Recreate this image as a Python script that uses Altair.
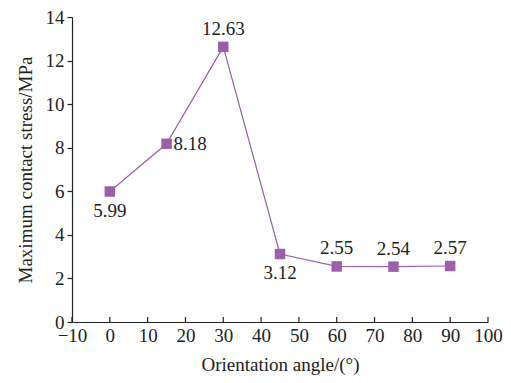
import altair as alt
import pandas as pd

angles = [0, 15, 30, 45, 60, 75, 90]
stress = [5.99, 8.18, 12.63, 3.12, 2.55, 2.54, 2.57]
labels = ["5.99", "8.18", "12.63", "3.12", "2.55", "2.54", "2.57"]
placement = ["below", "right", "above", "below", "above", "above", "above"]
x_ticks = list(range(-10, 101, 10))
y_ticks = list(range(0, 15, 2))

df = pd.DataFrame({"angle": angles, "stress": stress, "label": labels, "place": placement})
tick_df = pd.DataFrame({"angle": x_ticks})

color = "#9B5FAA"
font = "Liberation Serif"
ink = "#222222"
W, H = 416, 305
FS = 19

xscale = alt.Scale(domain=[-10, 100], nice=False)
yscale = alt.Scale(domain=[0, 14], nice=False)
xax = alt.Axis(title="Orientation angle/(°)", values=x_ticks, labelOverlap=False,
               labelFlush=False, ticks=False, labelPadding=4, titlePadding=10)
yax = alt.Axis(title="Maximum contact stress/MPa", values=y_ticks, labelOverlap=False,
               labelFlush=False, tickSize=5, labelPadding=3, titlePadding=10)

X = alt.X("angle:Q", scale=xscale, axis=xax, title="Orientation angle/(°)")
Y = alt.Y("stress:Q", scale=yscale, axis=yax, title="Maximum contact stress/MPa")

base = alt.Chart(df)

line = base.mark_line(color=color, strokeWidth=1.2).encode(x=X, y=Y)
pts = base.mark_square(color=color, size=110, opacity=1).encode(x=X, y=Y)

txt_style = dict(font=font, fontSize=FS, color=ink)

def lbl(place, **kw):
    return base.transform_filter(alt.datum.place == place).mark_text(**txt_style, **kw).encode(
        x=X, y=Y, text="label:N")

above = lbl("above", dy=-18)
below = lbl("below", dy=19)
right = lbl("right", dx=7, align="left")

ticks_in = alt.Chart(tick_df).mark_rule(color=ink, strokeWidth=1.2).encode(
    x=X,
    y=alt.value(H - 5),
    y2=alt.value(H),
)

chart = alt.layer(line, pts, above, below, right, ticks_in).properties(
    width=W, height=H,
    autosize=alt.AutoSizeParams(type="none"),
    padding={"left": 64, "top": 9, "right": 15, "bottom": 58},
    background="white",
).configure_view(stroke=None).configure_text(font=font).configure_axis(
    labelFont=font, titleFont=font, labelFontSize=FS, titleFontSize=FS,
    labelColor=ink, titleColor=ink, titleFontWeight="normal", labelOverlap=False,
    domainColor=ink, tickColor=ink, grid=False, domainWidth=1.2, tickWidth=1.2,
)

chart.save("out.html", embed_options={"renderer": "svg", "actions": False})
